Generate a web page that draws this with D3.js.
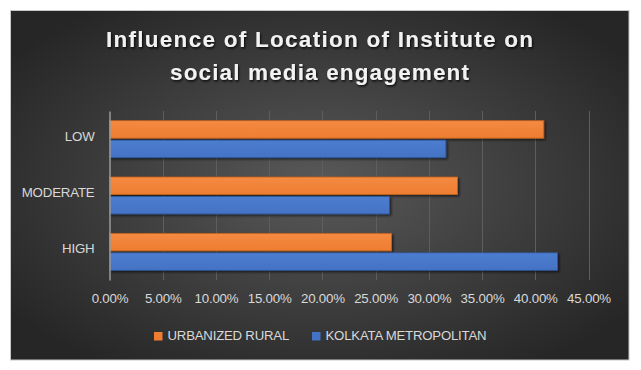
<!DOCTYPE html>
<html><head><meta charset="utf-8">
<script src="https://cdn.jsdelivr.net/npm/d3@7"></script>
<style>
html,body{margin:0;padding:0;background:#fff;}
svg{display:block;}
text{font-family:"Liberation Sans",Arial,sans-serif;}
</style></head>
<body>
<script>
const categories = ["LOW", "MODERATE", "HIGH"];
const seriesNames = ["URBANIZED RURAL", "KOLKATA METROPOLITAN"];
const urbanizedRural = [0.408, 0.327, 0.265];
const kolkataMetropolitan = [0.316, 0.263, 0.421];
const tickValues = [0, 0.05, 0.10, 0.15, 0.20, 0.25, 0.30, 0.35, 0.40, 0.45];
const titleLines = ["Influence of Location of Institute on", "social media engagement"];

const W = 641, H = 370;
const svg = d3.select("body").append("svg").attr("width", W).attr("height", H);
const defs = svg.append("defs");

const bg = defs.append("radialGradient").attr("id","bg").attr("cx","50%").attr("cy","50%").attr("r","62%");
bg.append("stop").attr("offset","0%").attr("stop-color","#595959");
bg.append("stop").attr("offset","100%").attr("stop-color","#262626");

const colors = ["#ED7D31", "#4472C4"];
const lights = ["#F58A42", "#4D7DD0"];
const borders = ["#C0601E", "#2F5597"];
colors.forEach((c,i)=>{
  const g = defs.append("linearGradient").attr("id","bar"+i).attr("x1",0).attr("y1",0).attr("x2",0).attr("y2",1);
  g.append("stop").attr("offset","0%").attr("stop-color",lights[i]);
  g.append("stop").attr("offset","100%").attr("stop-color",c);
});
const sh = defs.append("filter").attr("id","shadow").attr("x","-5%").attr("y","-30%").attr("width","115%").attr("height","180%");
sh.append("feDropShadow").attr("dx",1.5).attr("dy",1.5).attr("stdDeviation",1.2).attr("flood-color","#000").attr("flood-opacity",0.6);
const tsh = defs.append("filter").attr("id","tshadow").attr("x","-5%").attr("y","-30%").attr("width","110%").attr("height","180%");
tsh.append("feDropShadow").attr("dx",1).attr("dy",1.5).attr("stdDeviation",0.8).attr("flood-color","#000").attr("flood-opacity",0.85);

svg.append("rect").attr("x",10.5).attr("y",10.5).attr("width",618.5).attr("height",349.5)
  .attr("fill","url(#bg)").attr("stroke","#c8c8c8").attr("stroke-width",1);

// title
const title = svg.append("g").attr("filter","url(#tshadow)");
const titleTargets = [427, 299];
const titleBase = [46.5, 80];
titleLines.forEach((t,i)=>{
  const el = title.append("text").attr("x",319.5).attr("y",titleBase[i]).attr("text-anchor","middle")
    .attr("fill","#f2f2f2").attr("font-size","22.5px").attr("font-weight","bold").text(t);
  const w = el.node().getComputedTextLength();
  const ls = (titleTargets[i]-w)/(t.length-1);
  el.style("letter-spacing", ls+"px").attr("x", 319.5 + ls/2);
});

const x = d3.scaleLinear().domain([0, 0.45]).range([109.5, 588.5]);
const y0 = d3.scaleBand().domain(categories).range([111, 280]).padding(0);
const bw = y0.bandwidth();
const y1 = d3.scaleBand().domain(seriesNames).range([bw*0.172, bw*0.828]).paddingInner(0.1);

// gridlines
svg.append("g").selectAll("line").data(tickValues.slice(1)).join("line")
  .attr("x1",d=>Math.round(x(d))+0.5).attr("x2",d=>Math.round(x(d))+0.5)
  .attr("y1",111).attr("y2",280).attr("stroke","#5e5e5e").attr("stroke-width",1);

// x axis labels
const xAxis = d3.axisBottom(x).tickValues(tickValues).tickFormat(d3.format(".2%")).tickSize(0).tickPadding(0);
const gx = svg.append("g").attr("transform","translate(0,293.5)").call(xAxis);
gx.select(".domain").remove();
gx.selectAll("text").attr("fill","#d9d9d9").attr("font-size","13.3px").attr("font-family","Liberation Sans, Arial, sans-serif").attr("dy","0.71em").style("letter-spacing","-0.2px");

// bars
const data = categories.map((c,i)=>({cat:c, vals:[urbanizedRural[i], kolkataMetropolitan[i]]}));
const groups = svg.append("g").selectAll("g").data(data).join("g")
  .attr("transform",d=>`translate(0,${y0(d.cat)})`);
groups.selectAll("rect").data(d=>d.vals.map((v,j)=>({v,j,s:seriesNames[j]}))).join("rect")
  .attr("x",x(0)).attr("y",d=>y1(d.s)).attr("height",y1.bandwidth())
  .attr("width",d=>x(d.v)-x(0))
  .attr("fill",d=>`url(#bar${d.j})`).attr("stroke",d=>borders[d.j]).attr("stroke-width",0.8)
  .attr("filter","url(#shadow)");

// y axis
const yAxis = d3.axisLeft(y0).tickSize(0).tickPadding(15);
const gy = svg.append("g").attr("transform",`translate(${x(0)},0)`).call(yAxis);
gy.select(".domain").attr("stroke","#9a9a9a").attr("stroke-width",1.5);
gy.selectAll("text").attr("fill","#d9d9d9").attr("font-size","13.3px").attr("font-family","Liberation Sans, Arial, sans-serif").attr("dy","0.1em").style("letter-spacing","-0.2px");

// legend
const legX = [154, 312];
const leg = svg.append("g");
seriesNames.forEach((s,i)=>{
  leg.append("rect").attr("x",legX[i]).attr("y",332).attr("width",8.5).attr("height",8.5).attr("fill",colors[i]);
  leg.append("text").attr("x",legX[i]+13.5).attr("y",339.5).attr("fill","#d9d9d9").attr("font-size","13.2px").style("letter-spacing","-0.2px").text(s);
});
</script>
</body></html>
